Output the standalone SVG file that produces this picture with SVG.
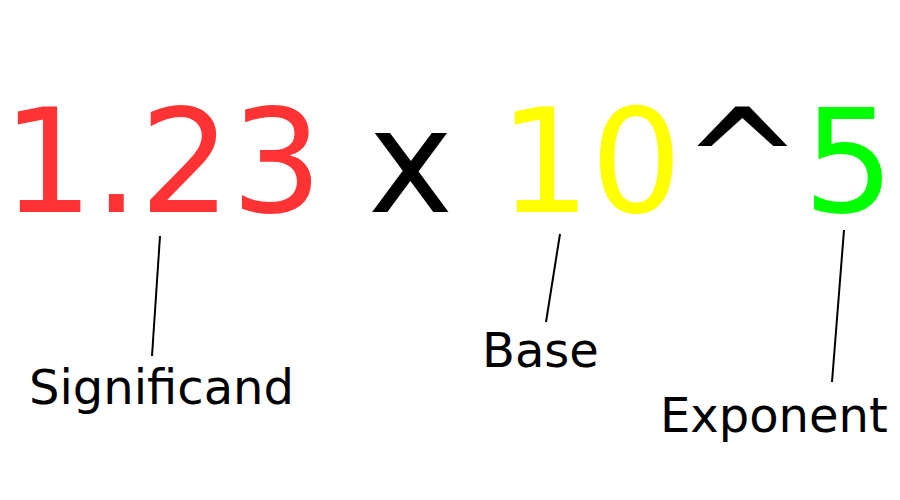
<svg xmlns="http://www.w3.org/2000/svg" width="900" height="500" viewBox="0 0 900 500">
  <style>
    .big { font-family: "DejaVu Sans", sans-serif; font-size: 144px; }
    .lbl { font-family: "DejaVu Sans", sans-serif; font-size: 48px; fill: #000; }
    .conn { stroke: #000; stroke-width: 2; fill: none; }
  </style>
  <rect width="900" height="500" fill="#fff"/>
  <g id="significand-value"><text class="big" x="2" y="212" fill="#ff3333">1.23</text></g>
  <g id="times"><text class="big" x="368" y="212" fill="#000">x</text></g>
  <g id="base-value"><text class="big" x="499" y="212" fill="#ffff00">10</text></g>
  <g id="caret"><text class="big" x="682" y="212" fill="#000">^</text></g>
  <g id="exponent-value"><text class="big" x="803" y="212" fill="#00ff00">5</text></g>
  <g id="connectors">
    <line class="conn" x1="160" y1="236" x2="152" y2="356"/>
    <line class="conn" x1="560" y1="234" x2="546" y2="322"/>
    <line class="conn" x1="844" y1="230" x2="832" y2="382"/>
  </g>
  <g id="significand-label"><text class="lbl" x="29" y="404">Significand</text></g>
  <g id="base-label"><text class="lbl" x="482" y="367">Base</text></g>
  <g id="exponent-label"><text class="lbl" x="660" y="432">Exponent</text></g>
</svg>
